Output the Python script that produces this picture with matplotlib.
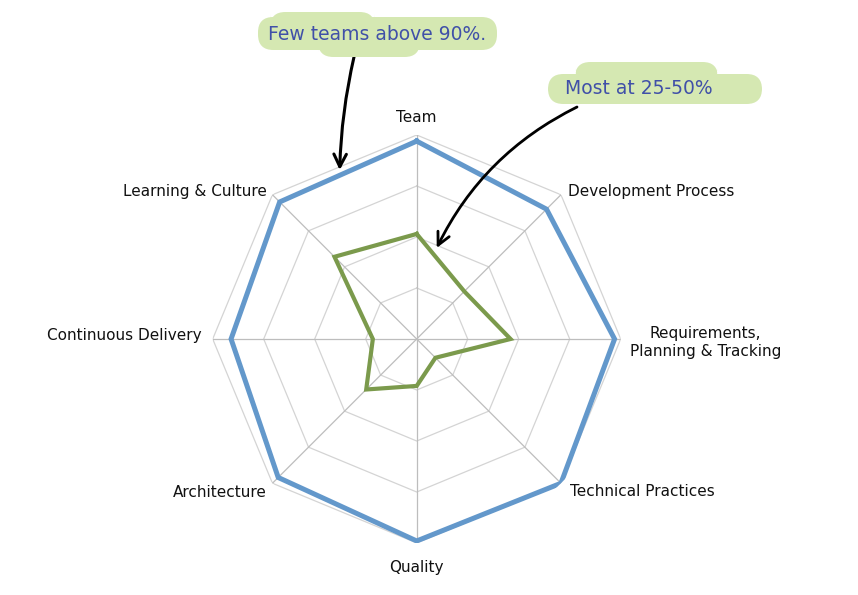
import numpy as np
import matplotlib
matplotlib.use("Agg")
import matplotlib.pyplot as plt
from matplotlib.patches import FancyBboxPatch

categories = ["Team", "Development Process", "Requirements,\nPlanning & Tracking",
              "Technical Practices", "Quality", "Architecture",
              "Continuous Delivery", "Learning & Culture"]
top_teams = [0.97, 0.90, 0.97, 1.00, 0.99, 0.96, 0.91, 0.95]
most_teams = [0.515, 0.33, 0.46, 0.13, 0.23, 0.35, 0.215, 0.57]
ring_levels = [0.25, 0.5, 0.75, 1.0]

W, H = 858, 595
fig = plt.figure(figsize=(W / 100, H / 100), dpi=100)
fig.patch.set_facecolor("white")

cx, cy, R = 416.7, 339.0, 204.0
ax = fig.add_axes([(cx - R) / W, (H - cy - R) / H, 2 * R / W, 2 * R / H], projection="polar")
ax.set_theta_offset(np.pi / 2)
ax.set_theta_direction(-1)
ax.set_ylim(0, 1.0)
ax.grid(False)
ax.set_xticks([])
ax.set_yticks([])
ax.spines["polar"].set_visible(False)
ax.set_facecolor("none")

n = len(categories)
angles = np.linspace(0, 2 * np.pi, n, endpoint=False)
closed = np.concatenate([angles, angles[:1]])

# octagon grid
for r in ring_levels:
    ax.plot(closed, [r] * (n + 1), color="#d4d4d4", lw=0.9, zorder=1)
for a in angles:
    ax.plot([a, a], [0, 1.0], color="#bdbdbd", lw=0.9, zorder=1)

ax.plot(closed, top_teams + top_teams[:1], color="#6398cb", lw=3.6,
        solid_joinstyle="miter", zorder=3)
ax.plot(closed, most_teams + most_teams[:1], color="#7b9a4c", lw=3.0,
        solid_joinstyle="miter", zorder=4)

# category labels (theta in degrees, radius, ha)
label_pos = [(0.0, 1.088, "center"), (45.8, 1.034, "left"), (91.0, 1.045, "left"),
             (135.0, 1.06, "left"), (180.0, 1.12, "center"), (224.4, 1.05, "right"),
             (270.8, 1.054, "right"), (314.4, 1.03, "right")]
for lab, (th, r, ha) in zip(categories, label_pos):
    ax.text(np.deg2rad(th), r, lab, ha=ha, va="center", multialignment="center",
            fontsize=11, color="#111111", linespacing=1.25, clip_on=False,
            family="DejaVu Sans")

# annotations
def fp(x, y):
    return (x / W, 1 - y / H)

hl = "#d5e8b2"
txtc = "#4050a8"

def brush(x0, y0, x1, y1):
    (fx0, fy1) = fp(x0, y0)
    (fx1, fy0) = fp(x1, y1)
    p = FancyBboxPatch((fx0, fy0), fx1 - fx0, fy1 - fy0,
                       boxstyle="round,pad=0,rounding_size=0.018",
                       transform=fig.transFigure, fc=hl, ec="none", zorder=0,
                       mutation_aspect=W / H)
    fig.patches.append(p)

brush(258, 17, 497, 50)
brush(318, 36, 420, 57)
brush(270, 12, 375, 30)
brush(548, 74, 762, 104)
brush(575, 62, 718, 84)

fig.text(*fp(268, 35), "Few teams above 90%.", fontsize=13.5, color=txtc,
         ha="left", va="center", zorder=5)
fig.text(*fp(565, 89), "Most at 25-50%", fontsize=13.5, color=txtc,
         ha="left", va="center", zorder=5)

ax.annotate("", xy=(np.deg2rad(-24.5), 0.91), xycoords="data",
            xytext=fp(354, 57), textcoords="figure fraction",
            arrowprops=dict(arrowstyle="->,head_length=0.9,head_width=0.45",
                            color="black", lw=2.2,
                            connectionstyle="arc3,rad=0.05", shrinkA=0, shrinkB=0),
            annotation_clip=False, zorder=6)
ax.annotate("", xy=(np.deg2rad(12.4), 0.457), xycoords="data",
            xytext=fp(577, 107), textcoords="figure fraction",
            arrowprops=dict(arrowstyle="->,head_length=0.9,head_width=0.45",
                            color="black", lw=2.0,
                            connectionstyle="arc3,rad=0.17", shrinkA=0, shrinkB=0),
            annotation_clip=False, zorder=6)

fig.savefig("out.png", dpi=100, facecolor="white")
